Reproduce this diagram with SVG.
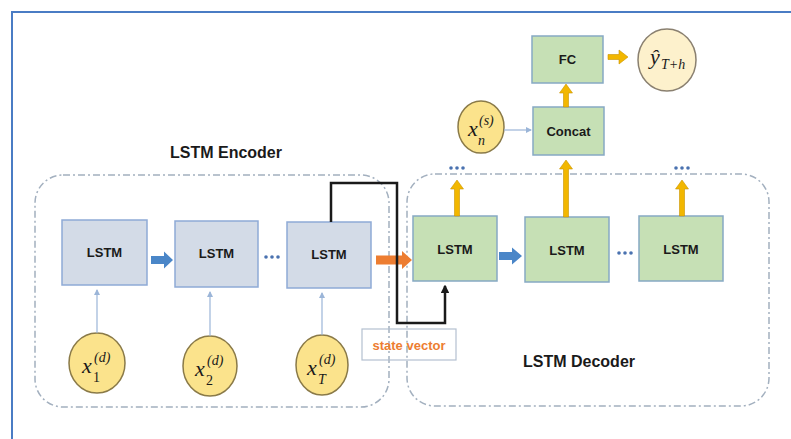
<svg xmlns="http://www.w3.org/2000/svg" width="791" height="439" viewBox="0 0 791 439">
<defs>
<style>
.frame{fill:none;stroke:#4a7cc4;stroke-width:2}
.cont{fill:none;stroke:#a3b0bf;stroke-width:1.5;stroke-dasharray:7 3 2 3}
.enc{fill:#d3dbe7;stroke:#8eaad6;stroke-width:1.5}
.dec{fill:#c6e0b5;stroke:#86a9c4;stroke-width:1.5}
.lbl{font-family:"Liberation Sans","Open Sans",sans-serif;font-weight:bold;font-size:13px;fill:#1a1a1a;text-anchor:middle}
.title{font-family:"Liberation Sans","Open Sans",sans-serif;font-weight:bold;font-size:16px;fill:#1a1a1a;text-anchor:middle}
.inp{fill:#fbe38c;stroke:#8a7a48;stroke-width:1.5}
.out{fill:#fdf1cc;stroke:#8a8070;stroke-width:1.5}
.mx{font-family:"Liberation Serif","DejaVu Serif",serif;font-style:italic;font-size:22px;fill:#1a1a1a}
.ms{font-family:"Liberation Serif","DejaVu Serif",serif;font-style:italic;font-size:14px;fill:#1a1a1a}
.up{font-style:normal}
.thin{fill:none;stroke:#9bb5d8;stroke-width:1.2;marker-end:url(#sm)}
.blue{fill:#4a86c8}
.yel{fill:#f2b700;stroke:#c99400;stroke-width:0.6}
.dots{fill:#4a72b0}
</style>
<marker id="sm" viewBox="0 0 6 6" refX="5" refY="3" markerWidth="5" markerHeight="5" orient="auto"><path d="M0,0 L6,3 L0,6 z" fill="#9bb5d8"/></marker>
<marker id="bk" viewBox="0 0 6 6" refX="5" refY="3" markerWidth="3.5" markerHeight="3.5" orient="auto"><path d="M0,0 L6,3 L0,6 z" fill="#1a1a1a"/></marker>
</defs>
<rect width="791" height="439" fill="#ffffff"/>
<path class="frame" d="M12,439 V12 H791"/>

<g id="encoder-container">
<rect class="cont" x="35" y="175" width="354" height="232" rx="28"/>
<text class="title" x="226" y="158">LSTM Encoder</text>
</g>
<g id="decoder-container">
<rect class="cont" x="407" y="174" width="362" height="232" rx="28"/>
<text class="title" x="579" y="367">LSTM Decoder</text>
</g>

<g id="enc1"><rect class="enc" x="62" y="220" width="85" height="65"/><text class="lbl" x="104.5" y="257">LSTM</text></g>
<g id="enc2"><rect class="enc" x="175" y="221" width="83" height="66"/><text class="lbl" x="216.5" y="258">LSTM</text></g>
<g id="enc3"><rect class="enc" x="287" y="222" width="84" height="66"/><text class="lbl" x="329" y="259">LSTM</text></g>

<g id="dec1"><rect class="dec" x="413" y="216" width="84" height="65"/><text class="lbl" x="455" y="254">LSTM</text></g>
<g id="dec2"><rect class="dec" x="525" y="217" width="84" height="65"/><text class="lbl" x="567" y="255">LSTM</text></g>
<g id="dec3"><rect class="dec" x="639" y="216" width="84" height="65"/><text class="lbl" x="681" y="254">LSTM</text></g>

<g id="concat"><rect class="dec" x="533" y="107" width="71" height="48"/><text class="lbl" x="568.5" y="136">Concat</text></g>
<g id="fc"><rect class="dec" x="532" y="36" width="71" height="47"/><text class="lbl" x="567.5" y="64">FC</text></g>

<g id="x1"><ellipse class="inp" cx="97" cy="363" rx="28" ry="30"/>
<text class="mx" x="82" y="373">x</text><text class="ms" x="94" y="362">(d)</text><text class="ms up" x="93" y="382">1</text></g>
<g id="x2"><ellipse class="inp" cx="210" cy="366" rx="27" ry="30"/>
<text class="mx" x="195" y="376">x</text><text class="ms" x="207" y="365">(d)</text><text class="ms up" x="206" y="385">2</text></g>
<g id="xT"><ellipse class="inp" cx="322" cy="365" rx="26" ry="30"/>
<text class="mx" x="307" y="375">x</text><text class="ms" x="319" y="364">(d)</text><text class="ms" x="318" y="384">T</text></g>
<g id="xn"><ellipse class="inp" cx="481" cy="127" rx="23" ry="26"/>
<text class="mx" x="468" y="136">x</text><text class="ms" x="479" y="125">(s)</text><text class="ms" x="478" y="145">n</text></g>
<g id="yhat"><ellipse class="out" cx="667" cy="60" rx="29" ry="31"/>
<text class="mx" x="650" y="64" font-size="20">ŷ</text><text class="ms" x="661" y="69" font-size="13">T+h</text></g>

<g id="state-vector"><rect x="362" y="329" width="94" height="31" fill="none" stroke="#b4c0d0" stroke-width="1.2"/>
<text x="409" y="350" font-family="Liberation Sans, Open Sans, sans-serif" font-weight="bold" font-size="13" fill="#ed7d31" text-anchor="middle">state vector</text></g>

<g id="connectors">
<line class="thin" x1="97" y1="333" x2="97" y2="290"/>
<line class="thin" x1="210" y1="336" x2="210" y2="292"/>
<line class="thin" x1="322" y1="335" x2="322" y2="293"/>
<line class="thin" x1="504" y1="130" x2="531" y2="130"/>
<path class="blue" d="M151,256 H164 V251.5 L173,260 L164,268.5 V264 H151 Z"/>
<path class="blue" d="M499,252 H512 V247.5 L522,256 L512,264.5 V260 H499 Z"/>
<path fill="#ed7d31" d="M376,255.5 H402 V251 L412,260 L402,269 V264.5 H376 Z"/>
<path d="M331,222 V183 H397 V323 H445 V286" fill="none" stroke="#1a1a1a" stroke-width="2.5" marker-end="url(#bk)"/>
<path class="yel" d="M454.5,216 V189 H450.5 L457,180 L463.5,189 H459.5 V216 Z"/>
<path class="yel" d="M563.5,217 V169 H559.5 L566,160 L572.5,169 H568.5 V217 Z"/>
<path class="yel" d="M679.5,216 V189 H675.5 L682,180 L688.5,189 H684.5 V216 Z"/>
<path class="yel" d="M563.5,107 V93 H559.5 L566,84 L572.5,93 H568.5 V107 Z"/>
<path class="yel" d="M608,54.5 H619 V50 L628,57 L619,64 V59.5 H608 Z"/>
<g class="dots">
<circle cx="266" cy="257" r="1.8"/><circle cx="272" cy="257" r="1.8"/><circle cx="278" cy="257" r="1.8"/>
<circle cx="619" cy="253" r="1.8"/><circle cx="625" cy="253" r="1.8"/><circle cx="631" cy="253" r="1.8"/>
<circle cx="451" cy="168" r="1.8"/><circle cx="457" cy="168" r="1.8"/><circle cx="463" cy="168" r="1.8"/>
<circle cx="676" cy="168" r="1.8"/><circle cx="682" cy="168" r="1.8"/><circle cx="688" cy="168" r="1.8"/>
</g>
</g>
</svg>
